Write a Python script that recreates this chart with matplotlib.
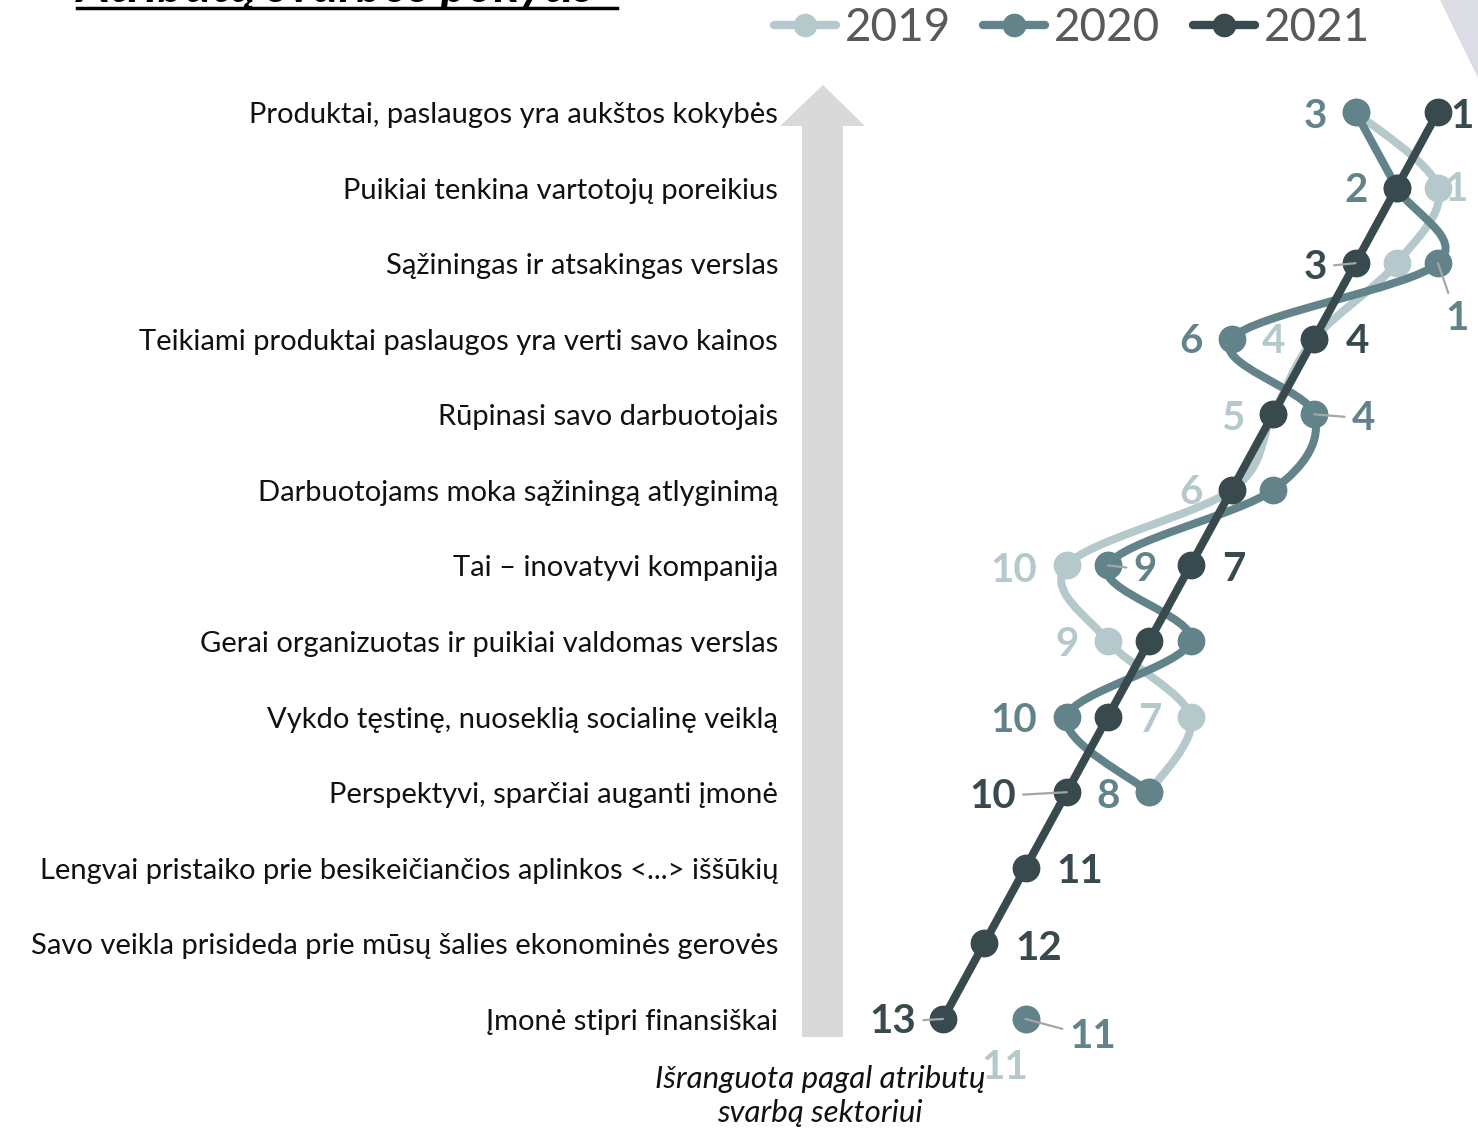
import numpy as np
import matplotlib
matplotlib.use('Agg')
import matplotlib.pyplot as plt
from matplotlib.path import Path
from matplotlib.patches import PathPatch, Polygon
from matplotlib.lines import Line2D

plt.rcParams['font.family'] = ['Lato', 'DejaVu Sans']

# --- data ---------------------------------------------------------------
attributes = [
    'Produktai, paslaugos yra aukštos kokybės',
    'Puikiai tenkina vartotojų poreikius',
    'Sąžiningas ir atsakingas verslas',
    'Teikiami produktai paslaugos yra verti savo kainos',
    'Rūpinasi savo darbuotojais',
    'Darbuotojams moka sąžiningą atlyginimą',
    'Tai – inovatyvi kompanija',
    'Gerai organizuotas ir puikiai valdomas verslas',
    'Vykdo tęstinę, nuoseklią socialinę veiklą',
    'Perspektyvi, sparčiai auganti įmonė',
    'Lengvai pristaiko prie besikeičiančios aplinkos <...> iššūkių',
    'Savo veikla prisideda prie mūsų šalies ekonominės gerovės',
    'Įmonė stipri finansiškai',
]
years = ['2019', '2020', '2021']
rank_2019 = [3, 1, 2, 4, 5, 6, 10, 9, 7, 8, np.nan, np.nan, 11]
rank_2020 = [3, 2, 1, 6, 4, 5, 9, 7, 10, 8, np.nan, np.nan, 11]
rank_2021 = [1, 2, 3, 4, 5, 6, 7, 8, 9, 10, 11, 12, 13]

colors = {'2019': '#b5c9cc', '2020': '#62838a', '2021': '#384a4e'}

# which value labels are shown: (row, dx px, dy px, leader line)
labels_2019 = [(1, 18, -2, False), (3, -41, -3, False), (4, -40, -4, False),
               (5, -41, -3, False), (6, -53, -5, False), (7, -41, -3, False),
               (8, -41, -4, False), (12, -21, -49, False)]
labels_2020 = [(0, -40, -4, False), (1, -41, -3, False), (2, 19, -55, True),
               (3, -41, -3, False), (4, 49, -4, True), (6, 37, -4, True),
               (8, -53, -4, False), (9, -41, -4, False), (12, 67, -18, True)]
labels_2021 = [(0, 24, -4, False), (2, -40, -4, True), (3, 43, -3, False),
               (6, 43, -4, False), (9, -74, -4, True), (10, 54, -4, False),
               (11, 54, -5, False), (12, -50, -3, True)]

W, H = 1478, 1128
X0, DX = 1438, 41.25      # pixel of rank 1, pixels per rank
Y0, DY = 112, 75.58       # pixel of first row, pixels per row


def fp(x, y):
    '''figure pixel (from top-left) -> figure fraction'''
    return x / W, 1 - y / H


def smooth_path(xs, ys):
    '''Catmull-Rom style smoothed path through the points (like Excel smoothed lines)'''
    pts = np.column_stack([xs, ys])
    verts = [pts[0]]
    codes = [Path.MOVETO]
    n = len(pts)
    for i in range(n - 1):
        p0 = pts[max(i - 1, 0)]
        p1 = pts[i]
        p2 = pts[i + 1]
        p3 = pts[min(i + 2, n - 1)]
        c1 = p1 + (p2 - p0) / 6.0
        c2 = p2 - (p3 - p1) / 6.0
        verts += [c1, c2, p2]
        codes += [Path.CURVE4] * 3
    return Path(verts, codes)


fig = plt.figure(figsize=(W / 100, H / 100), dpi=100)
ax = fig.add_axes([0, 0, 1, 1])
ax.set_xlim(1 + X0 / DX, 1 - (W - X0) / DX)
ax.set_ylim((H - Y0) / DY, -Y0 / DY)
ax.axis('off')

rows = np.arange(len(attributes))

# big grey arrow
arrow_px = [(802, 1037), (843, 1037), (843, 126), (865, 126), (823, 85), (780, 126), (802, 126)]
fig.patches.append(Polygon([fp(x, y) for x, y in arrow_px], closed=True,
                           transform=fig.transFigure, facecolor='#d9d9d9', edgecolor='none'))
# corner decoration
fig.patches.append(Polygon([fp(1440, 0), fp(1478, 0), fp(1478, 78)], closed=True,
                           transform=fig.transFigure, facecolor='#dcdde4', edgecolor='none'))

for year, ranks, z in [('2019', rank_2019, 2), ('2020', rank_2020, 3), ('2021', rank_2021, 4)]:
    r = np.array(ranks, dtype=float)
    ok = ~np.isnan(r)
    # split into contiguous runs
    start = None
    for i in range(len(r) + 1):
        if i < len(r) and ok[i]:
            if start is None:
                start = i
        else:
            if start is not None and i - start >= 2:
                p = smooth_path(r[start:i], rows[start:i])
                ax.add_patch(PathPatch(p, facecolor='none', edgecolor=colors[year],
                                       lw=5.8, capstyle='round', joinstyle='round', zorder=z))
            start = None
    ax.plot(r[ok], rows[ok], 'o', color=colors[year], markersize=19, zorder=z + 0.1)

for year, ranks, labs in [('2019', rank_2019, labels_2019), ('2020', rank_2020, labels_2020),
                          ('2021', rank_2021, labels_2021)]:
    for row, dx, dy, leader in labs:
        arrow = None
        if leader:
            arrow = dict(arrowstyle='-', color='#a6a6a6', lw=1.6, shrinkA=3, shrinkB=0)
        ax.annotate(str(int(ranks[row])), xy=(ranks[row], row), xytext=(dx, dy),
                    textcoords='offset pixels', ha='center', va='center',
                    fontsize=29, fontweight='bold', color=colors[year],
                    arrowprops=arrow, zorder=6)

# attribute labels
for i, name in enumerate(attributes):
    ax.text(1 + (X0 - 778) / DX, i + 3 / DY, name, ha='right', va='center', fontsize=21, color='#111111')

# caption under the arrow
fig.text(*fp(820, 1096), 'Išranguota pagal atributų\nsvarbą sektoriui', ha='center', va='center',
         fontsize=22.5, style='italic', linespacing=1.25, color='#111111')

# title, mostly cut off at the top
fig.text(*fp(77, 2), 'Atributų svarbos pokytis', ha='left', va='baseline',
         fontsize=36, fontweight='bold', style='italic', color='black')
fig.lines.append(Line2D([77 / W, 617 / W], [1 - 8 / H, 1 - 8 / H], transform=fig.transFigure,
                        color='black', lw=2.5))

# legend
handles = [Line2D([], [], color=colors[y], lw=6, marker='o', markersize=16, solid_capstyle='round')
           for y in years]
leg = ax.legend(handles, years, loc='center right', bbox_to_anchor=fp(1370, 28), bbox_transform=fig.transFigure,
                ncol=3, frameon=False, fontsize=33, handlelength=1.35, handletextpad=0.2,
                columnspacing=0.7, borderaxespad=0, borderpad=0)
for t in leg.get_texts():
    t.set_color('#595959')

plt.savefig('out.png', dpi=100)
